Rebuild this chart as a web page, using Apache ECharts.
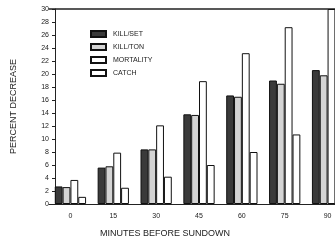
<!DOCTYPE html>
<html>
<head>
<meta charset="utf-8">
<script src="https://cdn.jsdelivr.net/npm/echarts@6/dist/echarts.min.js"></script>
<style>
  html, body { margin: 0; padding: 0; background: #fff; overflow: hidden; }
  #chart { width: 360px; height: 243px; }
</style>
</head>
<body>
<div id="chart"></div>
<script>
const minutes = ['0', '15', '30', '45', '60', '75', '90'];
const killSet = [2.7, 5.6, 8.4, 13.8, 16.7, 19.0, 20.6];
const killTon = [2.6, 5.8, 8.4, 13.7, 16.5, 18.5, 19.8];
const mortality = [3.7, 7.9, 12.1, 18.9, 23.2, 27.2, 30];
const catchVals = [1.1, 2.5, 4.2, 6.0, 8.0, 10.7, 13];

const font = 'Liberation Sans';
const chart = echarts.init(document.getElementById('chart'));

const barStyle = (fill) => ({
  color: fill,
  borderColor: '#111',
  borderWidth: 1
});

chart.setOption({
  animation: false,
  grid: { left: 49, right: 11, top: 9, bottom: 39 },
  legend: {
    orient: 'vertical',
    left: 85,
    top: 25,
    itemWidth: 15,
    itemHeight: 6,
    itemGap: 5,
    icon: 'rect',
    textStyle: { fontFamily: font, fontSize: 7, color: '#222', padding: [0, 0, 0, 2] },
    data: ['KILL/SET', 'KILL/TON', 'MORTALITY', 'CATCH']
  },
  xAxis: [{
    type: 'category',
    data: minutes,
    name: 'MINUTES BEFORE SUNDOWN',
    nameLocation: 'middle',
    nameGap: 25,
    nameTextStyle: { fontFamily: font, fontSize: 9, color: '#222', padding: [0, 68, 0, 0] },
    axisLine: { lineStyle: { color: '#222', width: 1 } },
    axisTick: { show: false },
    axisLabel: { fontFamily: font, fontSize: 7, color: '#222', margin: 9 }
  }, {
    type: 'category',
    position: 'top',
    data: minutes,
    axisLine: { lineStyle: { color: '#222', width: 1.5 } },
    axisTick: { show: false },
    axisLabel: { show: false }
  }],
  yAxis: {
    type: 'value',
    min: 0,
    max: 30,
    interval: 2,
    offset: -6,
    name: 'PERCENT DECREASE',
    nameLocation: 'middle',
    nameGap: 37,
    nameTextStyle: { fontFamily: font, fontSize: 9, color: '#222' },
    axisLine: { show: true, lineStyle: { color: '#222', width: 1 } },
    axisTick: { show: true, length: 3, lineStyle: { color: '#222' } },
    axisLabel: { fontFamily: font, fontSize: 7, color: '#222', margin: 6 },
    splitLine: { show: false }
  },
  series: [
    { name: 'KILL/SET', type: 'bar', data: killSet, barGap: '0%', barCategoryGap: '27%', itemStyle: barStyle('#3a3a3a') },
    { name: 'KILL/TON', type: 'bar', data: killTon, barGap: '0%', barCategoryGap: '27%', itemStyle: barStyle('#d4d4d4') },
    { name: 'MORTALITY', type: 'bar', data: mortality, barGap: '0%', barCategoryGap: '27%', itemStyle: barStyle('#ffffff') },
    { name: 'CATCH', type: 'bar', data: catchVals, barGap: '0%', barCategoryGap: '27%', itemStyle: barStyle('#ffffff') }
  ]
});
</script>
</body>
</html>
